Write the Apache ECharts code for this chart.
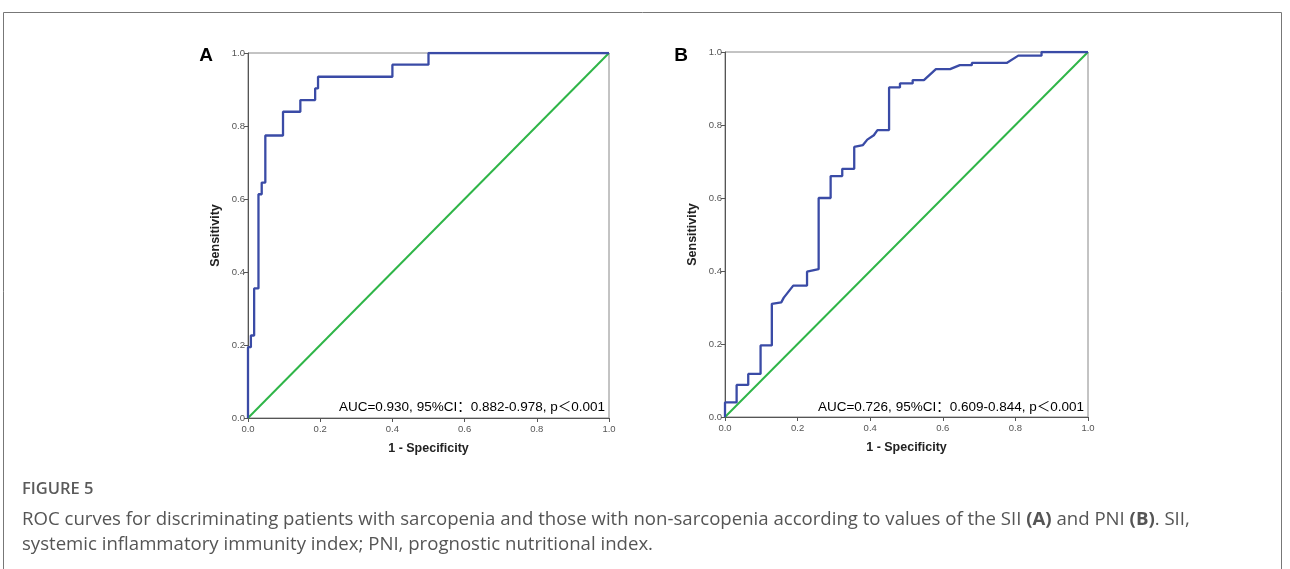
<!DOCTYPE html>
<html>
<head>
<meta charset="utf-8">
<script src="https://cdn.jsdelivr.net/npm/echarts@6/dist/echarts.min.js"></script>
<style>
html,body{margin:0;padding:0;background:#fff;}
#c{width:1290px;height:569px;}
</style>
</head>
<body>
<div id="c"></div>
<script>
// Panel A (SII) ROC vertices: 1 - specificity, sensitivity
const fprA = [0, 0, 0.008, 0.008, 0.017, 0.017, 0.029, 0.029, 0.038, 0.038, 0.048, 0.048, 0.097, 0.097, 0.145, 0.145, 0.186, 0.186, 0.194, 0.194, 0.4, 0.4, 0.5, 0.5, 1];
const tprA = [0, 0.194, 0.194, 0.226, 0.226, 0.355, 0.355, 0.613, 0.613, 0.645, 0.645, 0.774, 0.774, 0.839, 0.839, 0.871, 0.871, 0.903, 0.903, 0.935, 0.935, 0.968, 0.968, 1, 1];
// Panel B (PNI) ROC vertices
const fprB = [0, 0, 0.032, 0.032, 0.064, 0.064, 0.098, 0.098, 0.129, 0.129, 0.155, 0.162, 0.188, 0.226, 0.226, 0.258, 0.258, 0.291, 0.291, 0.323, 0.323, 0.356, 0.356, 0.38, 0.392, 0.41, 0.42, 0.452, 0.452, 0.482, 0.482, 0.517, 0.517, 0.548, 0.581, 0.62, 0.647, 0.68, 0.68, 0.776, 0.808, 0.872, 0.872, 1];
const tprB = [0, 0.04, 0.04, 0.088, 0.088, 0.118, 0.118, 0.196, 0.196, 0.31, 0.314, 0.327, 0.36, 0.36, 0.398, 0.405, 0.6, 0.6, 0.66, 0.66, 0.68, 0.68, 0.74, 0.745, 0.76, 0.772, 0.786, 0.786, 0.903, 0.903, 0.914, 0.914, 0.923, 0.923, 0.953, 0.953, 0.964, 0.964, 0.97, 0.97, 0.99, 0.99, 1, 1];
// Reference line
const refX = [0, 1];
const refY = [0, 1];
const panelLabels = ['A', 'B'];
const aucTexts = ['AUC=0.930, 95%CI：0.882-0.978, p＜0.001', 'AUC=0.726, 95%CI：0.609-0.844, p＜0.001'];
const xName = '1 - Specificity';
const yName = 'Sensitivity';
const figTitle = 'FIGURE 5';
const captionLine1 = 'ROC curves for discriminating patients with sarcopenia and those with non-sarcopenia according to values of the SII {b|(A)} and PNI {b|(B)}. SII,';
const captionLine2 = 'systemic inflammatory immunity index; PNI, prognostic nutritional index.';

const zip = (xs, ys) => xs.map((x, i) => [x, ys[i]]);

const grids = [
  {left: 248, top: 53, width: 361, height: 365},
  {left: 725, top: 52, width: 363, height: 365}
];

const axisFont = 'Liberation Sans, Arial, sans-serif';

function xAxis(i) {
  return {
    gridIndex: i, type: 'value', min: 0, max: 1, interval: 0.2,
    name: xName, nameLocation: 'middle', nameGap: 24,
    nameTextStyle: {fontFamily: axisFont, fontWeight: 'bold', fontSize: 12.5, color: '#222'},
    axisLine: {show: true, lineStyle: {color: '#555', width: 1}},
    axisTick: {show: true, inside: false, length: 4, lineStyle: {color: '#555'}},
    axisLabel: {fontFamily: axisFont, fontSize: 9.5, color: '#555', margin: 6,
      formatter: v => v.toFixed(1)},
    splitLine: {show: false}
  };
}
function yAxis(i) {
  return {
    gridIndex: i, type: 'value', min: 0, max: 1, interval: 0.2,
    name: yName, nameLocation: 'middle', nameGap: 26, nameRotate: 90,
    nameTextStyle: {fontFamily: axisFont, fontWeight: 'bold', fontSize: 12.5, color: '#222'},
    axisLine: {show: true, lineStyle: {color: '#555', width: 1}},
    axisTick: {show: true, inside: false, length: 4, lineStyle: {color: '#555'}},
    axisLabel: {fontFamily: axisFont, fontSize: 9.5, color: '#555', margin: 3,
      formatter: v => v.toFixed(1)},
    splitLine: {show: false}
  };
}

const series = [];
[[fprA, tprA], [fprB, tprB]].forEach((d, i) => {
  series.push({
    type: 'line', xAxisIndex: i, yAxisIndex: i, data: zip(refX, refY),
    showSymbol: false, symbol: 'none', animation: false,
    lineStyle: {color: '#2fb548', width: 2}, z: 2
  });
  series.push({
    type: 'line', xAxisIndex: i, yAxisIndex: i, data: zip(d[0], d[1]),
    showSymbol: false, symbol: 'none', animation: false,
    lineStyle: {color: '#3a4ba6', width: 2.3}, z: 3
  });
});

const chart = echarts.init(document.getElementById('c'), null, {renderer: 'canvas'});
chart.setOption({
  animation: false,
  grid: grids.map(g => Object.assign({show: true, borderColor: '#888', borderWidth: 1, backgroundColor: 'transparent'}, g)),
  xAxis: [xAxis(0), xAxis(1)],
  yAxis: [yAxis(0), yAxis(1)],
  series: series,
  graphic: [
    {type: 'rect', shape: {x: 3.5, y: 12.5, width: 1278, height: 620}, style: {fill: 'none', stroke: '#777', lineWidth: 1}, silent: true, z: 0},
    {type: 'text', x: 206, y: 56, style: {text: panelLabels[0], font: 'bold 19px Liberation Sans, Arial', fill: '#000', textAlign: 'center', textVerticalAlign: 'middle'}},
    {type: 'text', x: 681, y: 56, style: {text: panelLabels[1], font: 'bold 19px Liberation Sans, Arial', fill: '#000', textAlign: 'center', textVerticalAlign: 'middle'}},
    {type: 'text', x: 605, y: 407, style: {text: aucTexts[0], font: '13.5px Liberation Sans, Arial, Noto Sans CJK SC', fill: '#000', textAlign: 'right', textVerticalAlign: 'middle'}, z: 10},
    {type: 'text', x: 1084, y: 407, style: {text: aucTexts[1], font: '13.5px Liberation Sans, Arial, Noto Sans CJK SC', fill: '#000', textAlign: 'right', textVerticalAlign: 'middle'}, z: 10},
    {type: 'text', x: 22, y: 489, style: {text: figTitle, font: '600 16.5px Open Sans', fill: '#5a5a5a', textVerticalAlign: 'middle'}},
    {type: 'text', x: 22, y: 520, style: {text: captionLine1, font: '18.6px Open Sans', fill: '#555', textVerticalAlign: 'middle',
      rich: {b: {fontWeight: 'bold', fontFamily: 'Open Sans', fontSize: 18.6, fill: '#555', color: '#555'}}}},
    {type: 'text', x: 22, y: 545, style: {text: captionLine2, font: '18.6px Open Sans', fill: '#555', textVerticalAlign: 'middle'}}
  ]
});
</script>
</body>
</html>
